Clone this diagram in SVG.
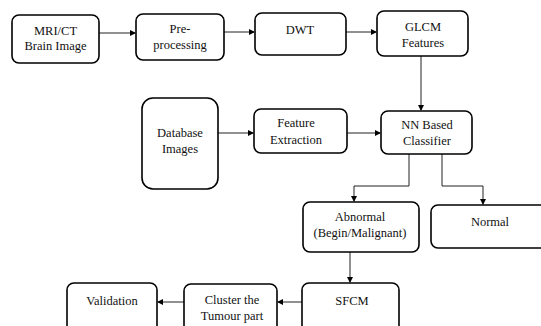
<svg xmlns="http://www.w3.org/2000/svg" width="541" height="326" viewBox="0 0 541 326">
<style>
.box{fill:#fff;stroke:#000;stroke-width:1.6}
.t{font-family:'Liberation Serif','Times New Roman',serif;font-size:12.5px;fill:#111;text-anchor:middle}
.c{fill:none;stroke:#222;stroke-width:1}
</style>
<defs>
<marker id="ah" markerWidth="6" markerHeight="6" refX="5" refY="3" orient="auto" markerUnits="userSpaceOnUse">
<path d="M0,0 L6,3 L0,6 Z" fill="#000"/>
</marker>
</defs>
<rect width="541" height="326" fill="#fff"/>
<g id="connectors">
<path class="c" d="M99,33 H135" marker-end="url(#ah)"/>
<path class="c" d="M224,32 H254" marker-end="url(#ah)"/>
<path class="c" d="M346,32 H376" marker-end="url(#ah)"/>
<path class="c" d="M421,56 V110" marker-end="url(#ah)"/>
<path class="c" d="M218,133 H253" marker-end="url(#ah)"/>
<path class="c" d="M347,133 H380" marker-end="url(#ah)"/>
<path class="c" d="M409,154 V186 H354 V201" marker-end="url(#ah)"/>
<path class="c" d="M442,154 V186 H483 V204" marker-end="url(#ah)"/>
<path class="c" d="M350,252 V282" marker-end="url(#ah)"/>
<path class="c" d="M302,302 H278" marker-end="url(#ah)"/>
<path class="c" d="M184,302 H158" marker-end="url(#ah)"/>
</g>
<g id="mri"><rect class="box" x="12" y="15" width="87" height="48" rx="7"/><text class="t" x="55.5" y="35">MRI/CT</text><text class="t" x="55.5" y="50">Brain Image</text></g>
<g id="pre"><rect class="box" x="136" y="14" width="88" height="46" rx="7"/><text class="t" x="180" y="33">Pre-</text><text class="t" x="180" y="49">processing</text></g>
<g id="dwt"><rect class="box" x="255" y="13" width="91" height="42" rx="7"/><text class="t" x="300" y="34">DWT</text></g>
<g id="glcm"><rect class="box" x="377" y="11" width="91" height="45" rx="7"/><text class="t" x="423" y="31">GLCM</text><text class="t" x="423" y="47">Features</text></g>
<g id="database"><rect class="box" x="142" y="98" width="76" height="91" rx="11"/><text class="t" x="180" y="137">Database</text><text class="t" x="180" y="153">Images</text></g>
<g id="feature"><rect class="box" x="254" y="109" width="93" height="44" rx="7"/><text class="t" x="296" y="127">Feature</text><text class="t" x="296" y="144">Extraction</text></g>
<g id="nn"><rect class="box" x="381" y="111" width="91" height="43" rx="7"/><text class="t" x="427" y="129">NN Based</text><text class="t" x="427" y="145">Classifier</text></g>
<g id="abnormal"><rect class="box" x="303" y="202" width="116" height="50" rx="7"/><text class="t" x="360" y="221">Abnormal</text><text class="t" x="360" y="237">(Begin/Malignant)</text></g>
<g id="normal"><rect class="box" x="431" y="205" width="120" height="43" rx="7"/><text class="t" x="490" y="226">Normal</text></g>
<g id="sfcm"><rect class="box" x="302" y="283" width="97" height="55" rx="7"/><text class="t" x="352" y="305">SFCM</text></g>
<g id="cluster"><rect class="box" x="184" y="284" width="93" height="55" rx="7"/><text class="t" x="232" y="304">Cluster the</text><text class="t" x="232" y="320">Tumour part</text></g>
<g id="validation"><rect class="box" x="67" y="283" width="90" height="55" rx="7"/><text class="t" x="112" y="305">Validation</text></g>
</svg>
